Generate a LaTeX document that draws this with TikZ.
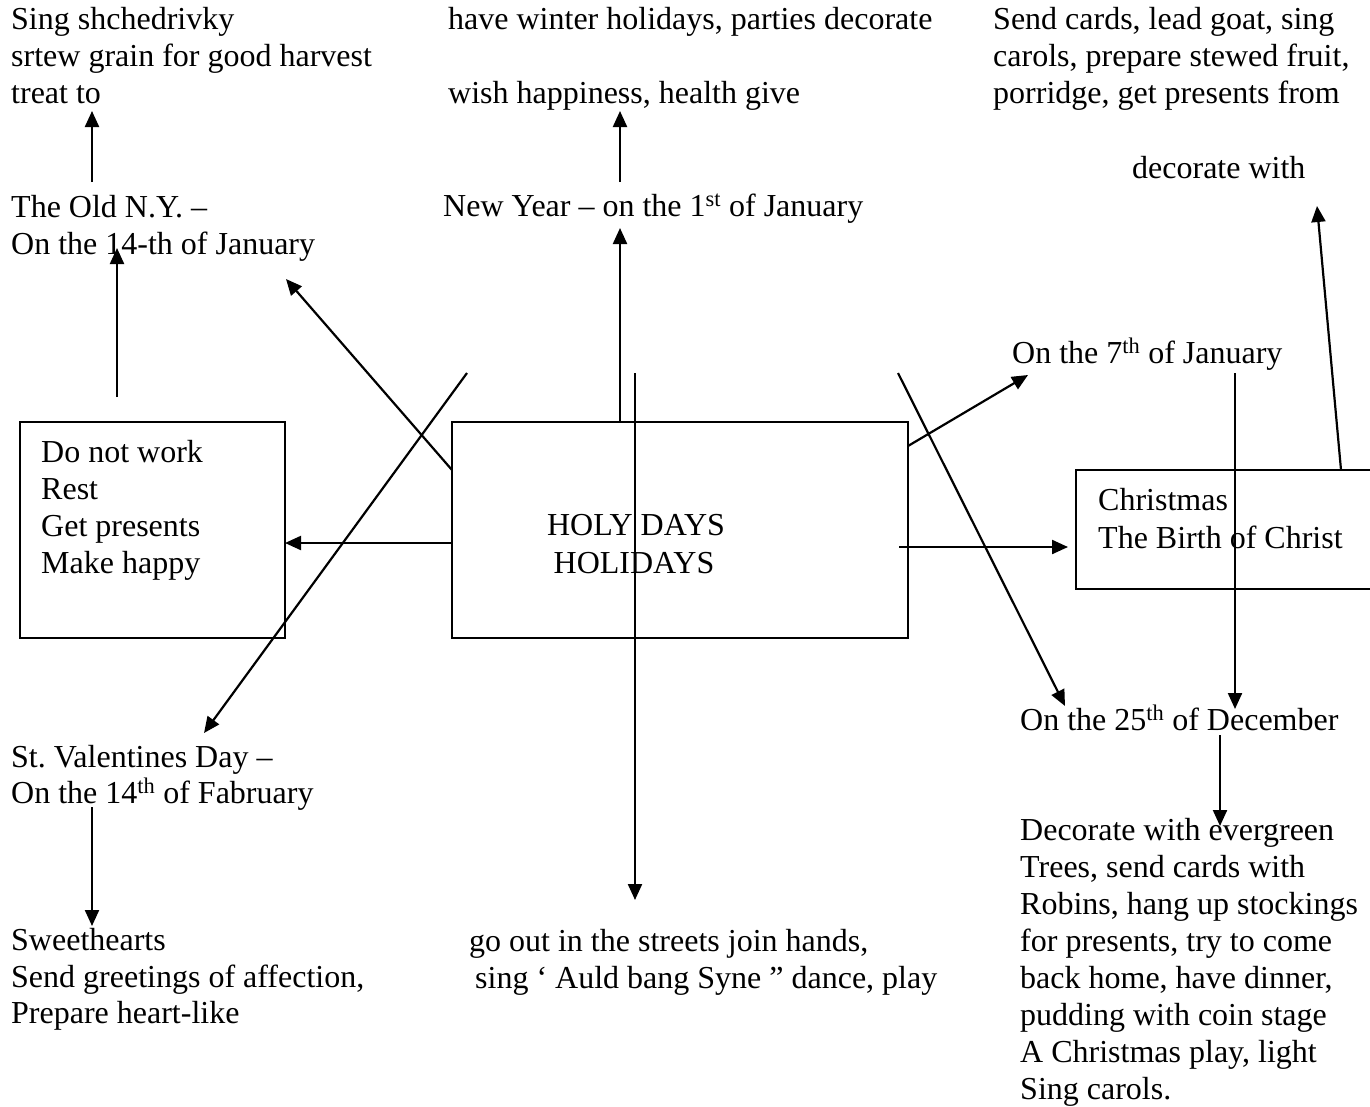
\documentclass[tikz,border=0pt]{standalone}
\usepackage{fontspec}
\setmainfont{Liberation Serif}
\usetikzlibrary{arrows.meta}
\frenchspacing
\begin{document}
\begin{tikzpicture}[x=1pt,y=-1pt,
  txt/.style={anchor=base west, inner sep=0pt, font=\fontsize{32}{37}\selectfont},
  ctxt/.style={anchor=base, inner sep=0pt, font=\fontsize{32}{37}\selectfont},
  boxnode/.style={draw, line width=1.6pt, rectangle, inner sep=0pt},
  arr/.style={line width=2.2pt, -{Triangle[length=16pt,width=14pt]}},
  openbox/.style={line width=1.6pt}]
\useasboundingbox (0,0) rectangle (1370,1106);

% boxes
\node[boxnode, minimum width=265pt, minimum height=216pt] (leftbox) at (152.5,530) {};
\node[boxnode, minimum width=456pt, minimum height=216pt] (centerbox) at (680,530) {};
\coordinate (xmasTR) at (1380,470);
\coordinate (xmasTL) at (1076,470);
\coordinate (xmasBL) at (1076,589);
\coordinate (xmasBR) at (1380,589);
\draw[openbox] (xmasTR) -- (xmasTL) -- (xmasBL) -- (xmasBR);

% box texts
\node[ctxt] (holy1) at (636,535) {HOLY DAYS};
\node[ctxt] (holy2) at (634,573) {HOLIDAYS};
\node[txt] (lb1) at (41,462) {Do not work};
\node[txt] (lb2) at (41,499) {Rest};
\node[txt] (lb3) at (41,536) {Get presents};
\node[txt] (lb4) at (41,573) {Make happy};
\node[txt] (xm1) at (1098,510) {Christmas};
\node[txt] (xm2) at (1098,548) {The Birth of Christ};

% top left
\node[txt] (tl1) at (11,29) {Sing shchedrivky};
\node[txt] (tl2) at (11,66) {srtew grain for good harvest};
\node[txt] (tl3) at (11,103) {treat to};
\node[txt] (old1) at (11,217) {The Old N.Y. –};
\node[txt] (old2) at (11,254) {On the 14-th of January};

% top middle
\node[txt] (tm1) at (448,29) {have winter holidays, parties decorate};
\node[txt] (tm2) at (448,103) {wish happiness, health give};
\node[txt] (ny) at (443,216) {New Year – on the 1\textsuperscript{st} of January};

% top right
\node[txt] (tr1) at (993,29) {Send cards, lead goat, sing};
\node[txt] (tr2) at (993,66) {carols, prepare stewed fruit,};
\node[txt] (tr3) at (993,103) {porridge, get presents from};
\node[txt] (decw) at (1132,178) {decorate with};
\node[txt] (jan7) at (1012,363) {On the 7\textsuperscript{th} of January};

% bottom left
\node[txt] (val1) at (11,767) {St. Valentines Day –};
\node[txt] (val2) at (11,803) {On the 14\textsuperscript{th} of Fabruary};
\node[txt] (sw1) at (11,950) {Sweethearts};
\node[txt] (sw2) at (11,987) {Send greetings of affection,};
\node[txt] (sw3) at (11,1023) {Prepare heart-like};

% bottom middle
\node[txt] (go1) at (469,951) {go out in the streets join hands,};
\node[txt] (go2) at (475,988) {sing ‘ Auld bang Syne ” dance, play};

% bottom right
\node[txt] (dec25) at (1020,730) {On the 25\textsuperscript{th} of December};
\node[txt] (cl1) at (1020,840) {Decorate with evergreen};
\node[txt] (cl2) at (1020,877) {Trees, send cards with};
\node[txt] (cl3) at (1020,914) {Robins, hang up stockings};
\node[txt] (cl4) at (1020,951) {for presents, try to come};
\node[txt] (cl5) at (1020,988) {back home, have dinner,};
\node[txt] (cl6) at (1020,1025) {pudding with coin stage};
\node[txt] (cl7) at (1020,1062) {A Christmas play, light};
\node[txt] (cl8) at (1020,1099) {Sing carols.};

% connector end points
\coordinate (a1s) at (117,397);  \coordinate (a1e) at (117,248);
\coordinate (a2s) at (92,182);   \coordinate (a2e) at (92,111);
\coordinate (a3s) at (620,182);  \coordinate (a3e) at (620,111);
\coordinate (a4s) at (620,422);  \coordinate (a4e) at (620,228);
\coordinate (a5s) at (635,373);  \coordinate (a5e) at (635,900);
\coordinate (a6s) at (452,543);  \coordinate (a6e) at (285,543);
\coordinate (a7s) at (452,470);  \coordinate (a7e) at (286,279);
\coordinate (a8s) at (467,373);  \coordinate (a8e) at (204,733);
\coordinate (a9s) at (908,446);  \coordinate (a9e) at (1028,375);
\coordinate (a10s) at (898,373); \coordinate (a10e) at (1065,706);
\coordinate (a11s) at (899,547); \coordinate (a11e) at (1068,547);
\coordinate (a12s) at (1235,373);\coordinate (a12e) at (1235,709);
\coordinate (a13s) at (1341,470);\coordinate (a13e) at (1317,206);
\coordinate (a14s) at (1220,735);\coordinate (a14e) at (1220,826);
\coordinate (a15s) at (92,807);  \coordinate (a15e) at (92,926);

\draw[arr] (a1s) -- (a1e);
\draw[arr] (a2s) -- (a2e);
\draw[arr] (a3s) -- (a3e);
\draw[arr] (a4s) -- (a4e);
\draw[arr] (a5s) -- (a5e);
\draw[arr] (a6s) -- (a6e);
\draw[arr] (a7s) -- (a7e);
\draw[arr] (a8s) -- (a8e);
\draw[arr] (a9s) -- (a9e);
\draw[arr] (a10s) -- (a10e);
\draw[arr] (a11s) -- (a11e);
\draw[arr] (a12s) -- (a12e);
\draw[arr] (a13s) -- (a13e);
\draw[arr] (a14s) -- (a14e);
\draw[arr] (a15s) -- (a15e);
\end{tikzpicture}
\end{document}
